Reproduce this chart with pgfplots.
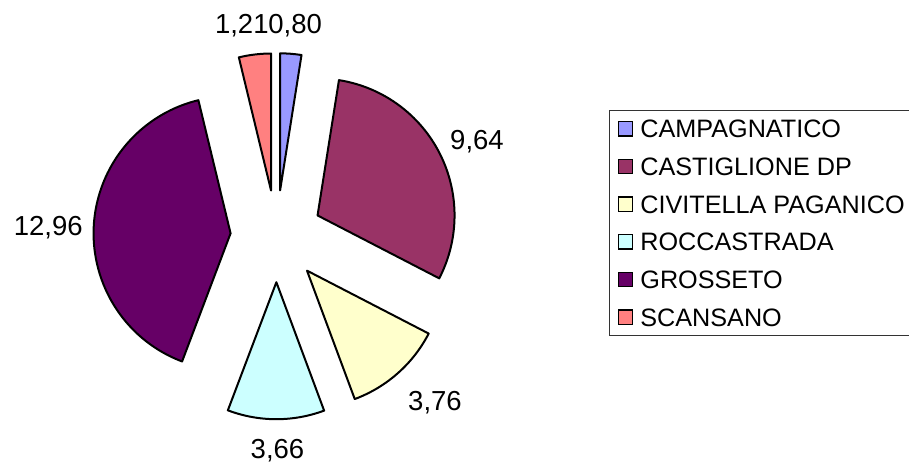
\documentclass[border=0pt]{standalone}
\usepackage{pgfplots}
\pgfplotsset{compat=1.18}
\usepackage{pgfplotstable}
\usepackage{fontspec}
\setmainfont{Liberation Sans}

\definecolor{cA}{HTML}{9999FF}
\definecolor{cB}{HTML}{993366}
\definecolor{cC}{HTML}{FFFFCC}
\definecolor{cD}{HTML}{CCFFFF}
\definecolor{cE}{HTML}{660066}
\definecolor{cF}{HTML}{FF8080}

\pgfplotstableread{
name value
CAMPAGNATICO 0.80
CASTIGLIONE 9.64
CIVITELLA 3.76
ROCCASTRADA 3.66
GROSSETO 12.96
SCANSANO 1.21
}\piedata

\newcommand\getv[2]{\pgfplotstablegetelem{#1}{value}\of\piedata\global\let#2\pgfplotsretval}
\getv{0}{\vA}\getv{1}{\vB}\getv{2}{\vC}\getv{3}{\vD}\getv{4}{\vE}\getv{5}{\vF}
\pgfmathsetmacro\tot{\vA+\vB+\vC+\vD+\vE+\vF}
\pgfmathsetmacro\aA{90}
\pgfmathsetmacro\aB{\aA-360*\vA/\tot}
\pgfmathsetmacro\aC{\aB-360*\vB/\tot}
\pgfmathsetmacro\aD{\aC-360*\vC/\tot}
\pgfmathsetmacro\aE{\aD-360*\vD/\tot}
\pgfmathsetmacro\aF{\aE-360*\vE/\tot}
\pgfmathsetmacro\aG{\aF-360*\vF/\tot}
\pgfmathsetmacro\mA{(\aA+\aB)/2}
\pgfmathsetmacro\mB{(\aB+\aC)/2}
\pgfmathsetmacro\mC{(\aC+\aD)/2}
\pgfmathsetmacro\mD{(\aD+\aE)/2}
\pgfmathsetmacro\mE{(\aE+\aF)/2}
\pgfmathsetmacro\mF{(\aF+\aG)/2}

\newcommand\slice[4]{%
  \draw[fill=#4, line width=1pt, line join=round]
    (axis cs:276.5,226.8) ++(#3:23pt) -- ++(#1:68.5pt)
    arc[start angle=#1, end angle=#2, radius=68.5pt] -- cycle;}

\begin{document}
\begin{tikzpicture}
\useasboundingbox (0,0) rectangle (454.5pt,231.5pt);
\begin{axis}[
  at={(0,0)}, anchor=south west,
  x=0.5pt, y=0.5pt, xmin=0, xmax=909, ymin=0, ymax=463,
  scale only axis, hide axis, clip=false,
  legend image code/.code={\draw[#1, line width=0.7pt] (0pt,-3.6pt) rectangle (7.2pt,3.6pt);},
  legend style={at={(axis cs:609,353)}, anchor=north west,
    draw=black!80, line width=0.6pt, fill=white,
    inner xsep=4pt, inner ysep=4.6pt,
    column sep=3.5pt, row sep=9.9pt,
    cells={anchor=west},
    nodes={inner sep=0pt, text height=8.95pt, text depth=0pt},
    font=\fontsize{12.6pt}{15pt}\selectfont},
]
\slice{\aA}{\aB}{\mA}{cA}
\slice{\aB}{\aC}{\mB}{cB}
\slice{\aC}{\aD}{\mC}{cC}
\slice{\aD}{\aE}{\mD}{cD}
\slice{\aE}{\aF}{\mE}{cE}
\slice{\aF}{\aG}{\mF}{cF}

\addlegendimage{fill=cA, draw=black}\addlegendentry{CAMPAGNATICO}
\addlegendimage{fill=cB, draw=black}\addlegendentry{CASTIGLIONE DP}
\addlegendimage{fill=cC, draw=black}\addlegendentry{CIVITELLA PAGANICO}
\addlegendimage{fill=cD, draw=black}\addlegendentry{ROCCASTRADA}
\addlegendimage{fill=cE, draw=black}\addlegendentry{GROSSETO}
\addlegendimage{fill=cF, draw=black}\addlegendentry{SCANSANO}

\begin{scope}[every node/.style={font=\fontsize{13.75pt}{16pt}\selectfont, anchor=base, inner sep=0pt}]
\node at (axis cs:241.8,429.7) {1,21};
\node at (axis cs:295.2,429.7) {0,80};
\node at (axis cs:477,314) {9,64};
\node at (axis cs:48.3,228) {12,96};
\node at (axis cs:435,53) {3,76};
\node at (axis cs:277.5,5) {3,66};
\end{scope}
\end{axis}
\end{tikzpicture}
\end{document}
